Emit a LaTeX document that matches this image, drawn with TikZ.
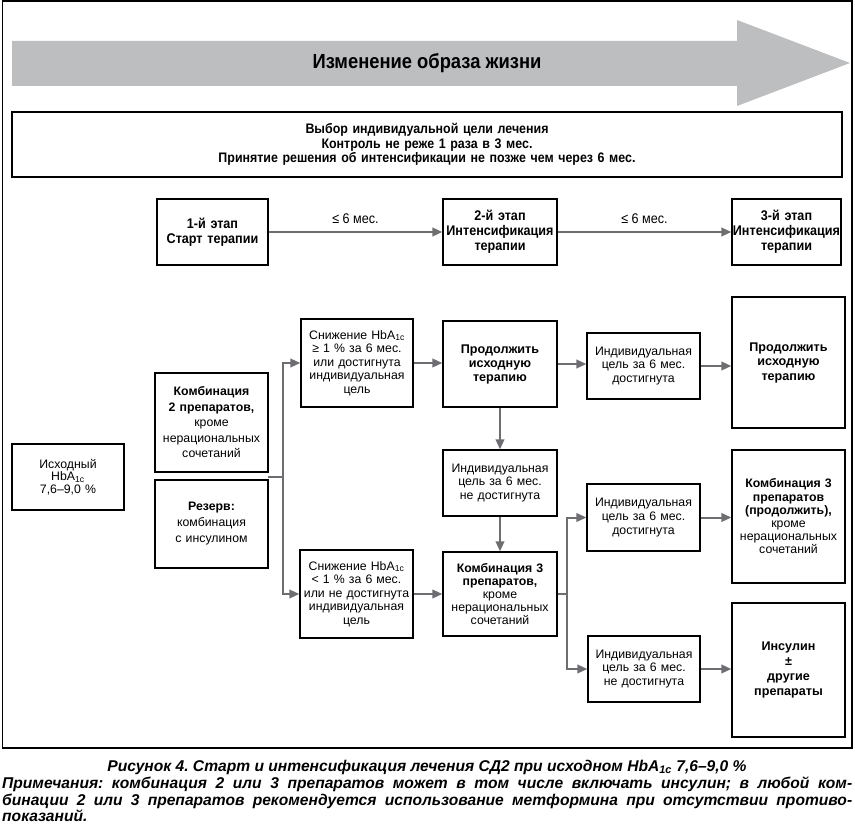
\documentclass[tikz,border=0pt]{standalone}
\usepackage{fontspec}
\setmainfont{Liberation Sans}
\newfontfamily\narrowfam[FakeStretch=0.9]{Liberation Sans}
\newfontfamily\capfam{Liberation Sans}
\newcommand\capstyle{\capfam\bfseries\itshape\fontsize{15.6}{16}\selectfont\frenchspacing}
\usetikzlibrary{arrows.meta}
\definecolor{linegray}{RGB}{109,110,113}
\definecolor{arrowgray}{RGB}{188,190,192}
\begin{document}
\begin{tikzpicture}[x=1pt,y=-1pt,
  box/.style={draw=black,line width=1.2pt,inner sep=0pt,align=center,font=\fontsize{12.3}{13.6}\selectfont},
  stagebox/.style={box,font=\narrowfam\bfseries\fontsize{14}{15}\selectfont},
  conn/.style={draw=linegray,line width=2pt,-{Triangle[length=10pt,width=8.5pt]}},
  ln/.style={draw=linegray,line width=2pt},
  lbl/.style={font=\narrowfam\fontsize{14}{15}\selectfont,inner sep=0pt,anchor=base}]
\useasboundingbox (0,0) rectangle (855,824);
\draw[line width=1.5pt] (2.5,1) rectangle (852,748);
% big arrow
\fill[arrowgray] (12,41) -- (737,41) -- (737,20) -- (850,63) -- (737,106) -- (737,86) -- (12,86) -- cycle;
\node[font=\narrowfam\bfseries\fontsize{20.4}{22}\selectfont] (life) at (427,63) {Изменение образа жизни};
% goal box
\node[box,minimum width=830pt,minimum height=65pt,text width=830pt,font=\narrowfam\bfseries\fontsize{13.8}{14.5}\selectfont] (goal) at (427,144.5) {Выбор индивидуальной цели лечения\\Контроль не реже 1 раза в 3 мес.\\Принятие решения об интенсификации не позже чем через 6 мес.};
% stages
\node[stagebox,minimum width=111pt,minimum height=66pt,text width=111pt] (s1) at (212.5,232) {1-й этап\\Старт терапии};
\node[stagebox,minimum width=114pt,minimum height=66pt,text width=114pt] (s2) at (500,232) {2-й этап\\Интенсификация\\терапии};
\node[stagebox,minimum width=109pt,minimum height=66pt,text width=109pt] (s3) at (786.5,232) {3-й этап\\Интенсификация\\терапии};
\draw[conn] (s1) -- node[lbl,yshift=9pt] {≤ 6 мес.} (s2);
\draw[conn] (s2) -- node[lbl,yshift=9pt] {≤ 6 мес.} (s3);
% left column
\node[box,minimum width=112pt,minimum height=66pt,text width=112pt,font=\fontsize{12.3}{12.5}\selectfont] (ish) at (68,477) {Исходный\\HbA\textsubscript{1c}\\7,6–9,0~\%};
\node[box,minimum width=113pt,minimum height=99pt,text width=113pt,font=\fontsize{12.3}{15.5}\selectfont] (k2) at (211.5,422.5) {\textbf{Комбинация}\\\textbf{2 препаратов,}\\кроме\\нерациональных\\сочетаний};
\node[box,minimum width=113pt,minimum height=88pt,text width=113pt,font=\fontsize{12.3}{16}\selectfont] (rez) at (211.5,524) {\textbf{Резерв:}\\комбинация\\с инсулином};
% second column
\node[box,minimum width=112pt,minimum height=88pt,text width=112pt] (sn1) at (357,363) {Снижение HbA\textsubscript{1c}\\≥ 1~\% за 6 мес.\\или достигнута\\индивидуальная\\цель};
\node[box,minimum width=113pt,minimum height=88pt,text width=113pt] (sn2) at (356.5,594) {Снижение HbA\textsubscript{1c}\\< 1~\% за 6 мес.\\или не достигнута\\индивидуальная\\цель};
% third column
\node[box,minimum width=114pt,minimum height=86pt,text width=114pt,font=\bfseries\fontsize{12.6}{14}\selectfont] (pr1) at (500,364) {Продолжить\\исходную\\терапию};
\node[box,minimum width=114pt,minimum height=66pt,text width=114pt] (nd1) at (500,483) {Индивидуальная\\цель за 6 мес.\\не достигнута};
\node[box,minimum width=114pt,minimum height=84pt,text width=114pt,font=\fontsize{12.3}{12.8}\selectfont] (k3) at (500,594) {\textbf{Комбинация 3}\\\textbf{препаратов,}\\кроме\\нерациональных\\сочетаний};
% fourth column
\node[box,minimum width=113pt,minimum height=66pt,text width=113pt] (d1) at (643.5,366) {Индивидуальная\\цель за 6 мес.\\достигнута};
\node[box,minimum width=113pt,minimum height=67pt,text width=113pt] (d2) at (643.5,517.5) {Индивидуальная\\цель за 6 мес.\\достигнута};
\node[box,minimum width=112pt,minimum height=66pt,text width=112pt] (nd2) at (644,669) {Индивидуальная\\цель за 6 мес.\\не достигнута};
% fifth column
\node[box,minimum width=113pt,minimum height=131pt,text width=113pt,font=\bfseries\fontsize{12.6}{14.5}\selectfont] (pr2) at (788.5,362.5) {Продолжить\\исходную\\терапию};
\node[box,minimum width=113pt,minimum height=133pt,text width=113pt,font=\fontsize{12.3}{13.2}\selectfont] (k3b) at (788.5,516.5) {\textbf{Комбинация 3}\\\textbf{препаратов}\\\textbf{(продолжить),}\\кроме\\нерациональных\\сочетаний};
\node[box,minimum width=113pt,minimum height=134pt,text width=113pt,font=\bfseries\fontsize{12.6}{15}\selectfont] (ins) at (788.5,670) {Инсулин\\±\\другие\\препараты};
% connectors
\coordinate (j0) at (268,477);
\coordinate (j1) at (283,477);
\draw[ln] (j0) -- (j1);
\draw[conn] (j1) |- (sn1.west);
\draw[conn] (j1) |- (sn2.west);
\draw[conn] (sn1.east) -- (sn1.east -| pr1.west);
\draw[conn] (pr1.east) -- (pr1.east -| d1.west);
\draw[conn] (d1.east) -- (d1.east -| pr2.west);
\draw[conn] (pr1.south) -- (nd1.north);
\draw[conn] (nd1.south) -- (k3.north);
\draw[conn] (sn2.east) -- (sn2.east -| k3.west);
\coordinate (j2) at (567,594);
\draw[ln] (k3.east) -- (j2);
\draw[conn] (j2) |- (d2.west);
\draw[conn] (j2) |- (nd2.west);
\draw[conn] (d2.east) -- (d2.east -| k3b.west);
\draw[conn] (nd2.east) -- (nd2.east -| ins.west);
% caption
\node[anchor=base,inner sep=0pt,font=\capstyle] (cap1) at (427,771) {Рисунок 4. Старт и интенсификация лечения СД2 при исходном HbA\textsubscript{1c} 7,6–9,0~\%};
\node[anchor=base west,inner sep=0pt,font=\capstyle] (cap2) at (2,788.5) {\makebox[850pt][s]{Примечания: комбинация 2 или 3 препаратов может в том числе включать инсулин; в любой ком-}};
\node[anchor=base west,inner sep=0pt,font=\capstyle] (cap3) at (2,805) {\makebox[850pt][s]{бинации 2 или 3 препаратов рекомендуется использование метформина при отсутствии противо-}};
\node[anchor=base west,inner sep=0pt,font=\capstyle] (cap4) at (2,821.5) {показаний.};
\end{tikzpicture}
\end{document}
